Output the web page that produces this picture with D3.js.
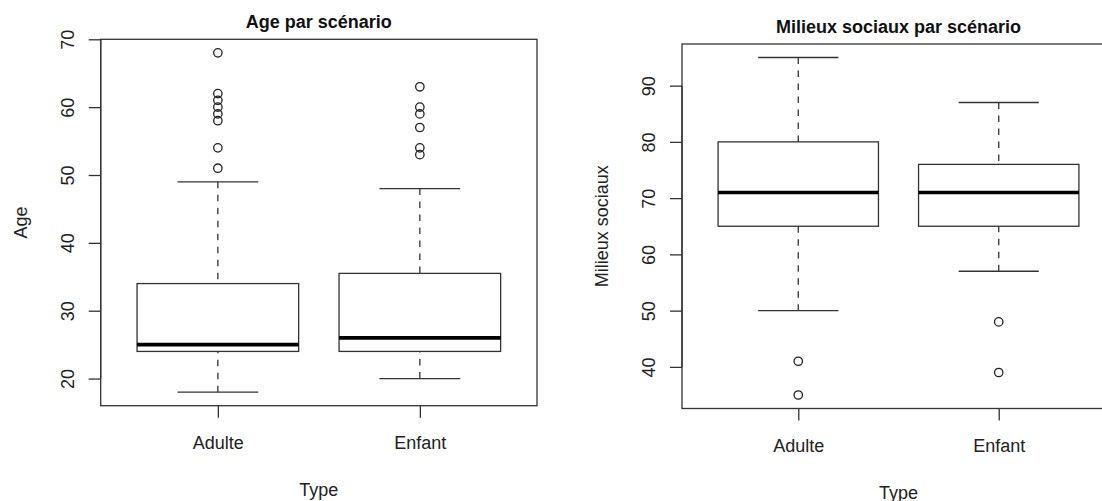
<!DOCTYPE html>
<html>
<head>
<meta charset="utf-8">
<script src="https://cdn.jsdelivr.net/npm/d3@7"></script>
<style>
  body { margin: 0; background: #fff; }
  svg { display: block; font-family: "Liberation Sans", Arial, sans-serif; }
</style>
</head>
<body>
<div id="chart"></div>
<script>
// categories
const types = ["Adulte", "Enfant"];

// five-number summaries: [lower whisker, Q1, median, Q3, upper whisker]
const ageStats = [[18, 24, 25, 34, 49], [20, 24, 26, 35.5, 48]];
const ageOutliers = [[51, 54, 58, 59, 60, 61, 62, 68], [53, 54, 57, 59, 60, 63]];
const ageTicks = [20, 30, 40, 50, 60, 70];

const milieuStats = [[50, 65, 71, 80, 95], [57, 65, 71, 76, 87]];
const milieuOutliers = [[35, 41], [39, 48]];
const milieuTicks = [40, 50, 60, 70, 80, 90];

const width = 1102;
const height = 501;
const ink = "#333";

const svg = d3.select("#chart")
  .append("svg")
    .attr("width", width)
    .attr("height", height);

function boxplot(opts) {
  const x = d3.scaleLinear().domain([0.42, 2.58]).range([opts.left, opts.right]);
  const y = d3.scaleLinear().domain(opts.domain).range([opts.bottom, opts.top]);
  const g = svg.append("g");

  // frame
  g.append("rect")
    .attr("x", x.range()[0]).attr("y", y.range()[1])
    .attr("width", x.range()[1] - x.range()[0])
    .attr("height", y.range()[0] - y.range()[1])
    .attr("fill", "none").attr("stroke", ink).attr("stroke-width", 1.3);

  // y axis
  const yAxis = g.append("g")
    .attr("transform", `translate(${opts.left},0)`)
    .call(d3.axisLeft(y).tickValues(opts.ticks).tickSize(12).tickFormat(d3.format("d")));
  yAxis.select(".domain")
    .attr("d", `M0,${y(opts.ticks[0])}V${y(opts.ticks[opts.ticks.length - 1])}`)
    .attr("stroke", ink).attr("stroke-width", 1.3);
  yAxis.selectAll(".tick line").attr("stroke", ink).attr("stroke-width", 1.3);
  yAxis.selectAll(".tick text")
    .attr("x", null).attr("dy", null)
    .attr("transform", "translate(-27,0) rotate(-90)")
    .attr("text-anchor", "middle")
    .attr("font-size", 18).attr("font-family", null).attr("fill", "#222");

  // x axis
  const xAxis = g.append("g")
    .attr("transform", `translate(0,${opts.bottom})`)
    .call(d3.axisBottom(x).tickValues([1, 2]).tickSize(12).tickFormat(d => types[d - 1]));
  xAxis.select(".domain").remove();
  xAxis.selectAll(".tick line").attr("stroke", ink).attr("stroke-width", 1.3);
  xAxis.selectAll(".tick text")
    .attr("y", 43).attr("dy", null)
    .attr("font-size", 18).attr("font-family", null).attr("fill", "#222");

  const boxes = g.selectAll(".box")
    .data(opts.stats)
    .join("g")
      .attr("class", "box");

  // dashed whiskers
  boxes.selectAll(".whisker")
    .data((d, i) => [[i + 1, d[0], d[1]], [i + 1, d[4], d[3]]])
    .join("line")
      .attr("x1", d => x(d[0])).attr("x2", d => x(d[0]))
      .attr("y1", d => y(d[1])).attr("y2", d => y(d[2]))
      .attr("stroke", ink).attr("stroke-width", 1.3)
      .attr("stroke-dasharray", "6.5,6.5");

  // whisker caps
  boxes.selectAll(".cap")
    .data((d, i) => [[i + 1, d[0]], [i + 1, d[4]]])
    .join("line")
      .attr("x1", d => x(d[0] - 0.2)).attr("x2", d => x(d[0] + 0.2))
      .attr("y1", d => y(d[1])).attr("y2", d => y(d[1]))
      .attr("stroke", ink).attr("stroke-width", 1.3);

  boxes.append("rect")
    .attr("x", (d, i) => x(i + 1 - 0.4))
    .attr("width", x(1.4) - x(0.6))
    .attr("y", d => y(d[3]))
    .attr("height", d => y(d[1]) - y(d[3]))
    .attr("fill", "#fff").attr("stroke", ink).attr("stroke-width", 1.3);

  boxes.append("line")
    .attr("x1", (d, i) => x(i + 1 - 0.4)).attr("x2", (d, i) => x(i + 1 + 0.4))
    .attr("y1", d => y(d[2])).attr("y2", d => y(d[2]))
    .attr("stroke", "#000").attr("stroke-width", 3.6);

  // outliers
  g.selectAll(".out")
    .data(opts.outliers.flatMap((vals, i) => vals.map(v => [i + 1, v])))
    .join("circle")
      .attr("cx", d => x(d[0])).attr("cy", d => y(d[1]))
      .attr("r", 4.2)
      .attr("fill", "none").attr("stroke", "#222").attr("stroke-width", 1.3);

  const cx = (opts.left + Math.min(opts.right, width + 200)) / 2;

  svg.append("text")
    .attr("x", cx).attr("y", opts.top - 11)
    .attr("text-anchor", "middle")
    .attr("font-size", 18).attr("font-weight", "bold").attr("fill", "#111")
    .text(opts.title);

  svg.append("text")
    .attr("x", cx).attr("y", opts.bottom + 90)
    .attr("text-anchor", "middle")
    .attr("font-size", 18).attr("fill", "#222")
    .text("Type");

  svg.append("text")
    .attr("transform", `translate(${opts.left - 74},${(opts.top + opts.bottom) / 2}) rotate(-90)`)
    .attr("text-anchor", "middle")
    .attr("font-size", 18).attr("fill", "#222")
    .text(opts.ylabel);
}

boxplot({
  left: 100.7, right: 537, top: 39.3, bottom: 405.7,
  domain: [16, 70], ticks: ageTicks,
  stats: ageStats, outliers: ageOutliers,
  title: "Age par scénario", ylabel: "Age"
});

boxplot({
  left: 682, right: 1115, top: 44, bottom: 408.5,
  domain: [32.6, 97.4], ticks: milieuTicks,
  stats: milieuStats, outliers: milieuOutliers,
  title: "Milieux sociaux par scénario", ylabel: "Milieux sociaux"
});
</script>
</body>
</html>
